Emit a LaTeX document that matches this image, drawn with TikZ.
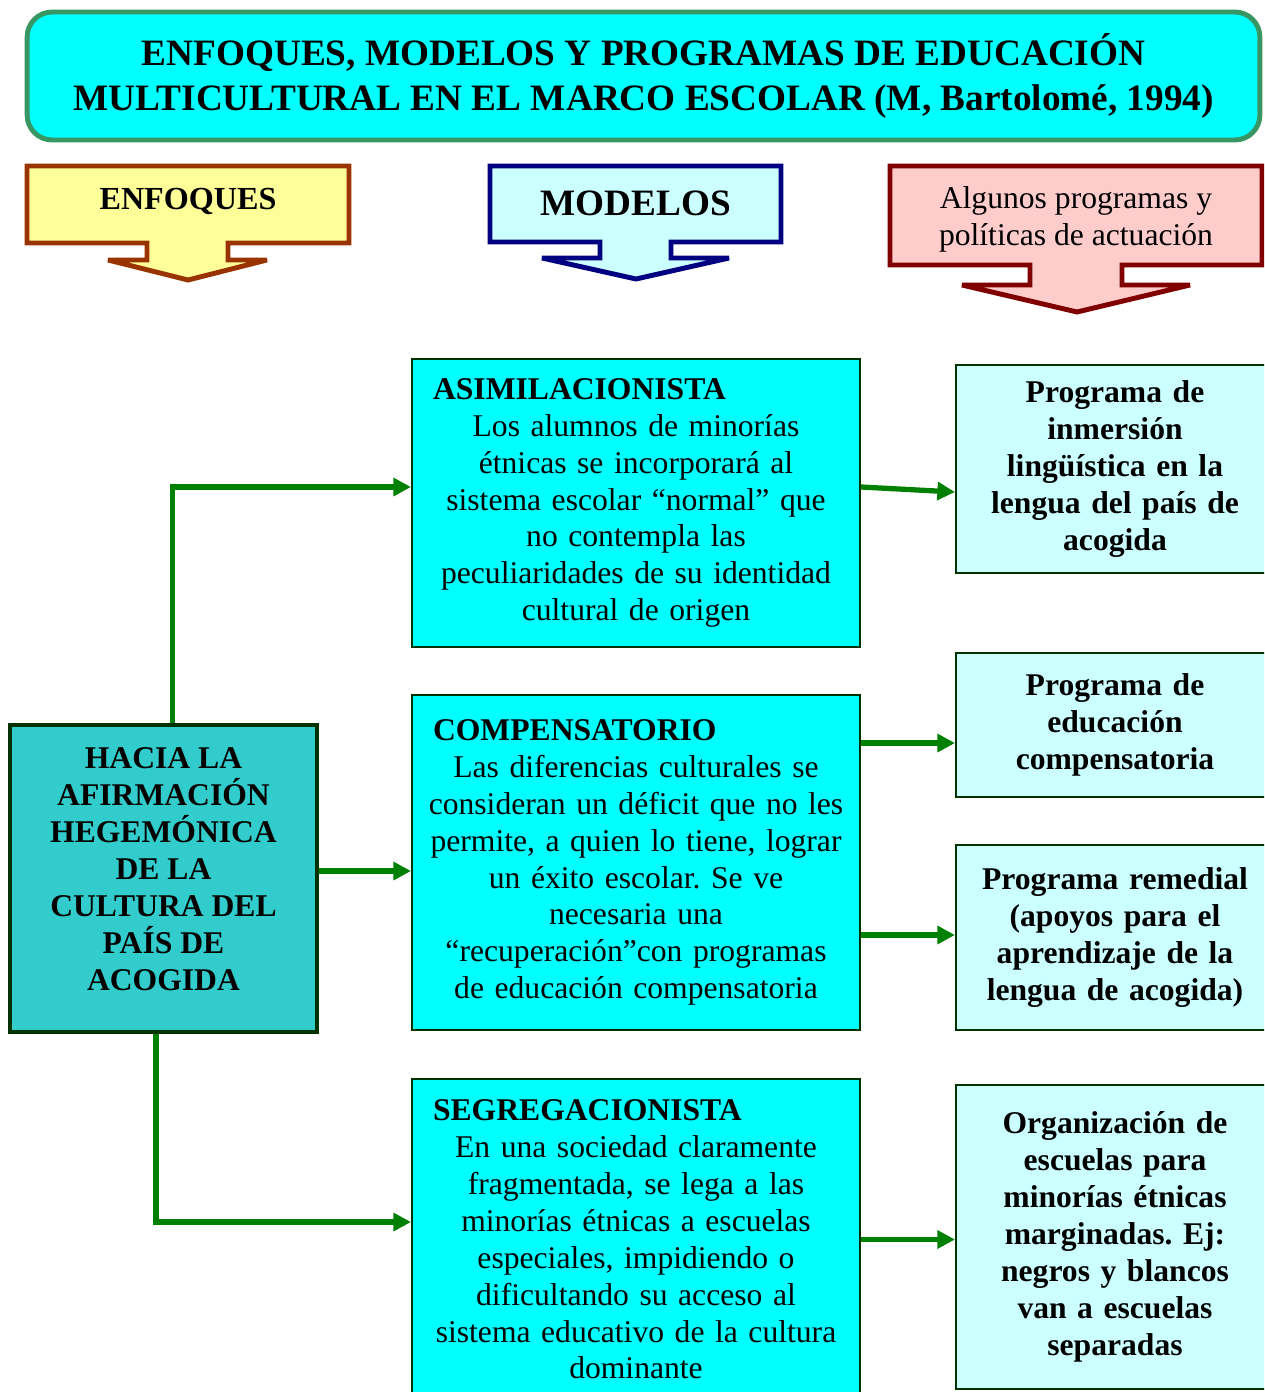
\documentclass[tikz,border=0pt]{standalone}
\usepackage{fontspec}
\setmainfont{Liberation Serif}
\usetikzlibrary{positioning, arrows.meta}
\definecolor{aqua}{RGB}{0,255,255}
\definecolor{titleedge}{RGB}{56,150,100}
\definecolor{enfedge}{RGB}{153,51,0}
\definecolor{enffill}{RGB}{255,255,153}
\definecolor{modedge}{RGB}{0,0,128}
\definecolor{lightcyan}{RGB}{204,255,255}
\definecolor{progedge}{RGB}{128,0,0}
\definecolor{progfill}{RGB}{255,204,204}
\definecolor{boxedge}{RGB}{0,51,0}
\definecolor{hacfill}{RGB}{51,204,204}
\definecolor{linkgreen}{RGB}{0,128,0}
\frenchspacing

\begin{document}
\begin{tikzpicture}[x=0.02cm, y=-0.02cm,
    body/.style={font=\fontsize{18}{21}\selectfont},
    model/.style={body, draw=boxedge, line width=1.2pt, fill=aqua, align=center,
      text width=8.56cm, inner xsep=0.2cm, minimum width=8.96cm},
    prog/.style={body, draw=boxedge, line width=1.2pt, fill=lightcyan, align=center,
      text width=6.16cm, inner xsep=0.1cm, minimum width=6.36cm, font=\fontsize{18}{21}\selectfont\bfseries},
    callout/.style={line width=2.8pt, miter limit=1.5},
    link/.style={draw=linkgreen, line width=3pt, -{Triangle[length=10pt, width=10pt]}}
  ]
  \useasboundingbox (0,0) rectangle (1264,1392);
  \clip (0,0) rectangle (1264,1392);

  % titulo
  \node[draw=titleedge, line width=2.8pt, fill=aqua, rounded corners=0.5cm,
        minimum width=24.66cm, minimum height=2.56cm, align=center,
        font=\fontsize{21.2}{25.6}\selectfont\bfseries] (title) at (643.5,76)
    {ENFOQUES, MODELOS Y PROGRAMAS DE EDUCACIÓN\\
     MULTICULTURAL EN EL MARCO ESCOLAR (M, Bartolomé, 1994)};

  % flechas de cabecera
  \draw[callout, draw=enfedge, fill=enffill]
    (27,166) -- (349,166) -- (349,243) -- (228,243) -- (228,260) -- (267,260)
    -- (188,280) -- (108,260) -- (147,260) -- (147,243) -- (27,243) -- cycle;
  \node[font=\fontsize{18.3}{22}\selectfont\bfseries] (enfoques) at (188,201) {ENFOQUES};

  \draw[callout, draw=modedge, fill=lightcyan]
    (490,166) -- (781,166) -- (781,242) -- (671,242) -- (671,258) -- (729,258)
    -- (636,279) -- (542,258) -- (600,258) -- (600,242) -- (490,242) -- cycle;
  \node[font=\fontsize{21.2}{25}\selectfont\bfseries] (modelos) at (636,203) {MODELOS};

  \draw[callout, draw=progedge, fill=progfill]
    (890,166) -- (1262,166) -- (1262,265) -- (1122,265) -- (1122,285) -- (1190,285)
    -- (1077,312) -- (962,285) -- (1030,285) -- (1030,265) -- (890,265) -- cycle;
  \node[body, align=center] (algunos) at (1076,219)
    {Algunos programas y\\ políticas de actuación};

  % enfoque
  \node[draw=boxedge, line width=2.8pt, fill=hacfill, minimum width=6.14cm,
        minimum height=6.14cm] (hacia) at (163.5,878.5) {};
  \node[align=center, font=\fontsize{18}{21}\selectfont\bfseries]
    (haciatext) at ([yshift=0.19cm]hacia.center)
    {HACIA LA\\ AFIRMACIÓN\\ HEGEMÓNICA\\ DE LA\\ CULTURA DEL\\ PAÍS DE\\ ACOGIDA};

  % modelos
  \node[model, minimum height=5.76cm] (asim) at (636,503)
    {\makebox[\linewidth][l]{\hspace{0.22cm}\bfseries ASIMILACIONISTA}\\
     Los alumnos de minorías\\ étnicas se incorporará al\\
     sistema escolar “normal” que\\ no contempla las\\
     peculiaridades de su identidad\\ cultural de origen};
  \node[model, minimum height=6.7cm] (comp) at (636,862.5)
    {\makebox[\linewidth][l]{\hspace{0.22cm}\bfseries COMPENSATORIO}\\
     Las diferencias culturales se\\ consideran un déficit que no les\\
     permite, a quien lo tiene, lograr\\ un éxito escolar. Se ve\\
     necesaria una\\ “recuperación”con programas\\ de educación compensatoria};
  \node[model, minimum height=6.42cm] (seg) at (636,1239.5)
    {\makebox[\linewidth][l]{\hspace{0.22cm}\bfseries SEGREGACIONISTA}\\
     En una sociedad claramente\\ fragmentada, se lega a las\\
     minorías étnicas a escuelas\\ especiales, impidiendo o\\
     dificultando su acceso al\\ sistema educativo de la cultura\\ dominante};

  % programas
  \node[prog, minimum height=4.16cm] (prog1) at (1115,469)
    {Programa de\\ inmersión\\ lingüística en la\\ lengua del país de\\ acogida};
  \node[prog, minimum height=2.88cm] (prog2) at (1115,725)
    {Programa de\\ educación\\ compensatoria};
  \node[prog, minimum height=3.7cm] (prog3) at (1115,937.5)
    {Programa remedial\\ (apoyos para el\\ aprendizaje de la\\ lengua de acogida)};
  \node[prog, minimum height=6.08cm] (prog4) at (1115,1237)
    {Organización de\\ escuelas para\\ minorías étnicas\\ marginadas. Ej:\\
     negros y blancos\\ van a escuelas\\ separadas};

  % conexiones
  \draw[link] ([xshift=0.18cm]hacia.north) |- ([yshift=0.32cm]asim.west);
  \coordinate (hmid) at ([yshift=0.15cm]hacia.east);
  \draw[link] (hmid) -- (hmid -| comp.west);
  \draw[link] ([xshift=-0.15cm]hacia.south) |- ([yshift=0.35cm]seg.west);

  \draw[link] ([yshift=0.32cm]asim.east) -- ([yshift=-0.46cm]prog1.west);
  \coordinate (c1) at ([yshift=2.39cm]comp.east);
  \draw[link] (c1) -- (c1 -| prog2.west);
  \coordinate (c2) at ([yshift=-1.45cm]comp.east);
  \draw[link] (c2) -- (c2 -| prog3.west);
  \draw[link] (seg.east) -- (seg.east -| prog4.west);
\end{tikzpicture}
\end{document}
